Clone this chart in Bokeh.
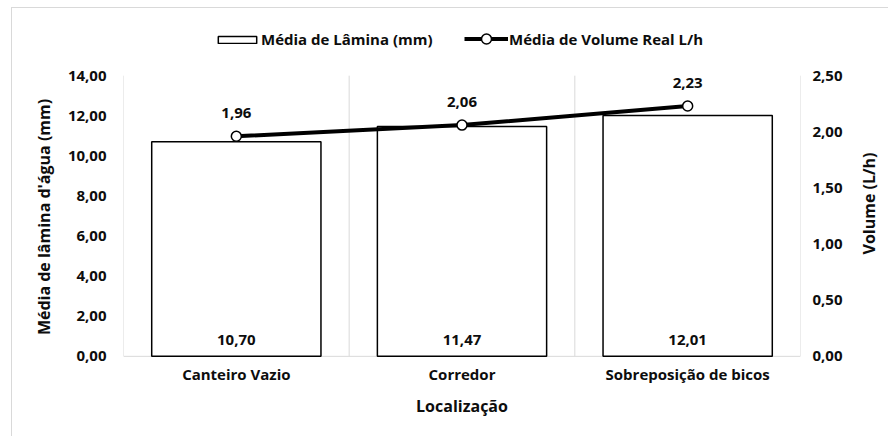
import math
from bokeh.plotting import figure
from bokeh.layouts import row
from bokeh.models import (Range1d, LinearAxis, FixedTicker, CustomJSTickFormatter,
                          ColumnDataSource, LabelSet, Label, Legend, LegendItem)
from bokeh.core.properties import value
from bokeh.embed import file_html
from bokeh.resources import INLINE

# Data
locations = ["Canteiro Vazio", "Corredor", "Sobreposição de bicos"]
lamina_mm = [10.70, 11.47, 12.01]
volume_lh = [1.96, 2.06, 2.23]

left_ticks = [0, 2, 4, 6, 8, 10, 12, 14]
right_ticks = [0, 0.5, 1.0, 1.5, 2.0, 2.5]
left_max, right_max = 14, 2.5

FONT = "Open Sans"
TXT = "#0d0d0d"
GRID = "#d9d9d9"

# Layout (pixels). The frame spans the full chart height so the legend,
# category labels and axis title can live inside it.
CANVAS_H = 429
FRAME_H = 416
ZERO_FROM_TOP = 347   # zero line, measured from the frame top
VALUE_SPAN = 280      # height of the 0..max value span
below = (FRAME_H - ZERO_FROM_TOP) / VALUE_SPAN
above = ZERO_FROM_TOP / VALUE_SPAN

def br(v):
    return f"{v:.2f}".replace(".", ",")

n = len(locations)
xpos = [i + 0.5 for i in range(n)]
src = ColumnDataSource(dict(
    x=xpos, lam=lamina_mm, vol=volume_lh, zero=[0] * n, names=locations,
    lam_txt=[br(v) for v in lamina_mm], vol_txt=[br(v) for v in volume_lh],
))

p = figure(frame_width=676, frame_height=FRAME_H, width=845, height=CANVAS_H,
           min_border_left=111, min_border_right=58, min_border_top=0,
           min_border_bottom=CANVAS_H - FRAME_H,
           x_range=Range1d(0, n),
           y_range=Range1d(-left_max * below, left_max * above),
           x_axis_location=None,
           output_backend="svg", toolbar_location=None, tools="")
p.margin = (7, 0, 0, 11)
p.styles = {"border-top": "1px solid #d9d9d9", "border-left": "1px solid #d9d9d9"}
p.extra_y_ranges = {"vol": Range1d(-right_max * below, right_max * above)}
p.outline_line_color = None
p.background_fill_color = "white"
p.border_fill_color = "white"
p.xgrid.grid_line_color = None
p.ygrid.grid_line_color = None

fmt = CustomJSTickFormatter(code="return tick.toFixed(2).replace('.', ',');")

# Left value axis
ya = p.yaxis[0]
ya.ticker = FixedTicker(ticks=left_ticks)
ya.formatter = fmt
ya.axis_label = "Média de lâmina d'água (mm)"
ya.axis_line_color = None
ya.major_tick_line_color = None
ya.minor_tick_line_color = None
ya.major_label_standoff = 11
ya.axis_label_standoff = 10
ya.axis_label_text_font = FONT
ya.axis_label_text_font_style = "bold"
ya.axis_label_text_font_size = "16px"
ya.axis_label_text_color = TXT

# Right volume axis
ra = LinearAxis(y_range_name="vol", ticker=FixedTicker(ticks=right_ticks), formatter=fmt)
ra.axis_line_color = None
ra.major_tick_line_color = None
ra.minor_tick_line_color = None
ra.major_label_standoff = 6
p.add_layout(ra, "right")

for ax in (ya, ra):
    ax.major_label_text_font = FONT
    ax.major_label_text_font_style = "bold"
    ax.major_label_text_font_size = "15px"
    ax.major_label_text_color = TXT

# Category separators and the baseline
bounds = list(range(n + 1))
p.segment(x0=bounds, y0=[0] * (n + 1), x1=bounds, y1=[left_max] * (n + 1),
          line_color=GRID, line_width=1, level="underlay")
p.segment(x0=[0], y0=[0], x1=[n], y1=[0], line_color=GRID, line_width=1, level="underlay")

# Bars (left axis)
bars = p.vbar(x="x", top="lam", width=0.75, source=src, fill_color="white",
              line_color="black", line_width=1.5)

# Line + markers (right axis)
ln = p.line(x="x", y="vol", source=src, y_range_name="vol", line_color="black", line_width=4)
pts = p.scatter(x="x", y="vol", source=src, y_range_name="vol", size=10,
                fill_color="white", line_color="black", line_width=1.5)

set_style = dict(text_font=value(FONT), text_font_style="bold", text_color=TXT)
one_style = dict(text_font=FONT, text_font_style="bold", text_color=TXT)

# Value labels
p.add_layout(LabelSet(x="x", y="zero", text="lam_txt", source=src, text_align="center",
                      text_baseline="middle", y_offset=16, text_font_size="15px", **set_style))
p.add_layout(LabelSet(x="x", y="vol", text="vol_txt", source=src, y_range_name="vol",
                      text_align="center", text_baseline="middle", y_offset=23,
                      text_font_size="15px", **set_style))

# Category names and the horizontal axis title
p.add_layout(LabelSet(x="x", y="zero", text="names", source=src, text_align="center",
                      text_baseline="middle", y_offset=-18, text_font_size="15px", **set_style))
p.add_layout(Label(x=n / 2, y=0, text="Localização", text_align="center",
                   text_baseline="middle", y_offset=-50, text_font_size="16px", **one_style))

# Legend across the top (one entry per legend so each keeps its own glyph size)
common = dict(orientation="horizontal", padding=0, margin=0, border_line_color=None,
              background_fill_alpha=0, label_text_font=FONT, label_text_font_style="bold",
              label_text_font_size="15px", label_text_color=TXT)
leg_bar = Legend(items=[LegendItem(label="Média de Lâmina (mm)", renderers=[bars])],
                 location=(90, 376), glyph_width=48, glyph_height=9,
                 label_standoff=0, **common)
leg_line = Legend(items=[LegendItem(label="Média de Volume Real L/h", renderers=[ln, pts])],
                  location=(341, 374), glyph_width=44, glyph_height=25,
                  label_standoff=1, **common)
p.add_layout(leg_bar, "center")
p.add_layout(leg_line, "center")

# Narrow strip on the right carrying the volume axis title
q = figure(width=32, height=CANVAS_H, min_border=0, x_range=Range1d(0, 1), y_range=Range1d(0, 1),
           x_axis_location=None, y_axis_location=None,
           output_backend="svg", toolbar_location=None, tools="")
q.margin = (7, 0, 0, 0)
q.styles = {"border-top": "1px solid #d9d9d9"}
q.outline_line_color = None
q.xgrid.grid_line_color = None
q.ygrid.grid_line_color = None
q.add_layout(Label(x=11, y=CANVAS_H - 208, x_units="screen", y_units="screen",
                   text="Volume (L/h)", angle=math.pi / 2, text_align="center",
                   text_baseline="middle", text_font_size="16px", **one_style))

layout = row(p, q)
open("out.html", "w").write(file_html(layout, INLINE))
